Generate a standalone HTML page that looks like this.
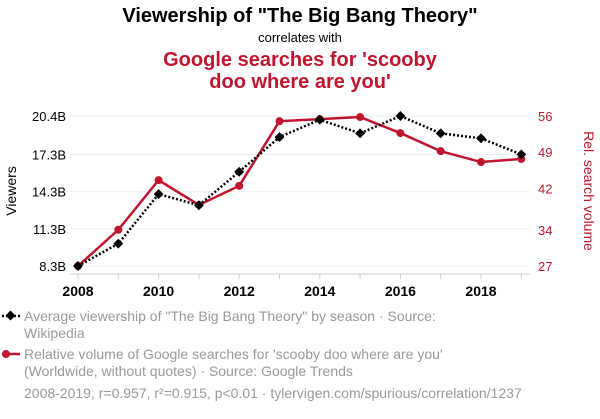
<!DOCTYPE html>
<html><head><meta charset="utf-8"><style>
body{margin:0;background:#fff;width:600px;height:414px;overflow:hidden;font-family:"Liberation Sans",sans-serif}
</style></head><body>
<svg width="600" height="414" font-family="Liberation Sans, sans-serif">
<text x="300" y="22" text-anchor="middle" font-size="20" font-weight="bold" fill="#000">Viewership of "The Big Bang Theory"</text>
<text x="300" y="42" text-anchor="middle" font-size="13" fill="#000">correlates with</text>
<text x="300" y="66" text-anchor="middle" font-size="20" font-weight="bold" fill="#c0152f">Google searches for 'scooby</text>
<text x="300" y="88" text-anchor="middle" font-size="20" font-weight="bold" fill="#c0152f">doo where are you'</text>
<g id="grid"></g><g id="axes"></g><g id="marks"></g>
<text transform="translate(16,191) rotate(-90)" text-anchor="middle" font-size="14" fill="#000">Viewers</text>
<text transform="translate(584,191) rotate(90)" text-anchor="middle" font-size="14" fill="#c0152f">Rel. search volume</text>
<g>
<line x1="2" y1="316" x2="20" y2="316" stroke="#000" stroke-width="2.5" stroke-dasharray="2,2"/>
<rect x="7" y="312" width="7" height="7" fill="#000" transform="rotate(45 10.5 315.5)"/>
<text x="24" y="321" font-size="14" fill="#999">Average viewership of "The Big Bang Theory" by season · Source:</text>
<text x="24" y="338" font-size="14" fill="#999">Wikipedia</text></g>
<g>
<line x1="2" y1="354" x2="20" y2="354" stroke="#c0152f" stroke-width="2.5"/>
<circle cx="6" cy="354" r="4" fill="#c0152f"/>
<text x="24" y="359" font-size="14" fill="#999">Relative volume of Google searches for 'scooby doo where are you'</text>
<text x="24" y="376" font-size="14" fill="#999">(Worldwide, without quotes) · Source: Google Trends</text></g>
<text x="24" y="398" font-size="14" fill="#999">2008-2019, r=0.957, r²=0.915, p&lt;0.01 · tylervigen.com/spurious/correlation/1237</text>
</svg>
<script>
const years=[2008,2009,2010,2011,2012,2013,2014,2015,2016,2017,2018,2019];
const viewers=[8.3,10.1,14.1,13.2,15.9,18.7,20.1,19.0,20.4,19.0,18.6,17.3];
const searches=[27,34,43.6,38.8,42.5,55,55.4,55.8,52.7,49.2,47.1,47.7];
const leftTicks=[8.3,11.3,14.3,17.3,20.4];
const leftLabels=["8.3B","11.3B","14.3B","17.3B","20.4B"];
const rightTicks=[27,34,42,49,56];
const xTicks=[2008,2010,2012,2014,2016,2018];
const NS="http://www.w3.org/2000/svg";
const x=v=>78+(v-2008)*40.3;
const yL=v=>266-(v-8.3)*(150/12.1);
const yR=v=>266-(v-27)*(150/29);
function mk(t,a,p){const e=document.createElementNS(NS,t);for(const k in a)e.setAttribute(k,a[k]);p.appendChild(e);return e;}
const grid=document.getElementById('grid'),axes=document.getElementById('axes'),marks=document.getElementById('marks');
leftTicks.forEach((v,i)=>{
 const g=mk('line',{x1:70,x2:530,y1:yL(v),y2:yL(v),stroke:'#eee','stroke-width':1},grid);
 
 
 const t=mk('text',{x:66,y:yL(v)+5,'text-anchor':'end','font-size':13,fill:'#000'},axes);t.textContent=leftLabels[i];
 
 
});
const ax=mk('line',{x1:70,x2:530,y1:274,y2:274,stroke:'#ccc','stroke-width':1},axes);


rightTicks.forEach(v=>{
 const t=mk('text',{x:538,y:yR(v)+5,'font-size':13,fill:'#c0152f'},axes);t.textContent=v;
 
 
});
years.forEach(v=>{
 const tm=mk('line',{x1:x(v),x2:x(v),y1:274,y2:279,stroke:'#ccc','stroke-width':1},axes);
 
 
});
xTicks.forEach(v=>{
 const t=mk('text',{x:x(v),y:296,'text-anchor':'middle','font-size':14,'font-weight':'bold',fill:'#000'},axes);t.textContent=v;
 
 
});
const rl=mk('polyline',{points:years.map((yr,i)=>x(yr)+','+yR(searches[i])).join(' '),fill:'none',stroke:'#c0152f','stroke-width':2.5},marks);


const bl=mk('polyline',{points:years.map((yr,i)=>x(yr)+','+yL(viewers[i])).join(' '),fill:'none',stroke:'#000','stroke-width':2.5,'stroke-dasharray':'2,2'},marks);


years.forEach((yr,i)=>{
 const c=mk('circle',{cx:x(yr),cy:yR(searches[i]),r:4,fill:'#c0152f'},marks);
 
 
 const cx=x(yr),cy=yL(viewers[i]);
 const d=mk('rect',{x:cx-3.5,y:cy-3.5,width:7,height:7,fill:'#000',transform:`rotate(45 ${cx} ${cy})`},marks);
 
 
});
</script>
</body></html>
